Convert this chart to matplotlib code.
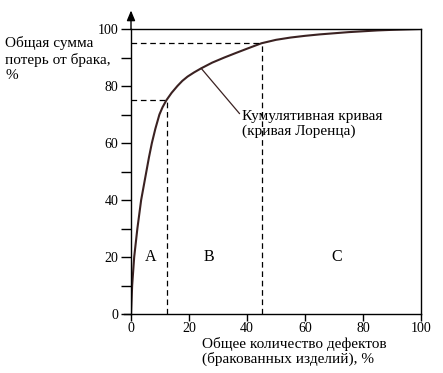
import matplotlib.pyplot as plt
import numpy as np

plt.rcParams['font.family'] = ['Liberation Serif', 'DejaVu Serif']

# cumulative curve
defects_pct = [0, 0.4, 1.1, 2.2, 3.5, 4.4, 5.3, 6.2, 7.2, 8.4, 9.8, 10.9, 12.2, 14.0, 16.0, 17.7,
               19.5, 21.8, 24.2, 28.0, 32.2, 36.2, 40.3, 45.0, 50, 55, 60, 65, 70, 75, 80, 85, 90,
               95, 100]
losses_pct = [0, 10, 20, 30, 40, 45, 50, 55, 60, 65, 70, 72.6, 75, 77.6, 80, 81.8,
              83.3, 84.8, 86.2, 88.2, 90, 91.6, 93.2, 95.0, 96.2, 97.0, 97.6, 98.1, 98.5, 98.9, 99.2,
              99.5, 99.7, 99.85, 100]

# ABC boundaries
a_x, a_y = 12.3, 75
b_x, b_y = 45, 95
zone_labels = ['A', 'B', 'C']
zone_x = [6.7, 27, 71]
zone_y = 20

fig = plt.figure(figsize=(4.43, 3.73), dpi=100)
ax = fig.add_axes([131/443, 1 - 314/373, 290/443, 285/373])

ax.plot(defects_pct, losses_pct, color='#3b2222', lw=1.5, solid_capstyle='round', solid_joinstyle='round')

dash = dict(color='black', lw=0.9, ls=(0, (4.5, 3)))
ax.plot([0, a_x], [a_y, a_y], **dash)
ax.plot([a_x, a_x], [0, a_y], **dash)
ax.plot([0, b_x], [b_y, b_y], **dash)
ax.plot([b_x, b_x], [0, b_y], **dash)

for lab, zx in zip(zone_labels, zone_x):
    ax.text(zx, zone_y, lab, fontsize=11.5, ha='center', va='center')

ax.annotate('Кумулятивная кривая\n(кривая Лоренца)', xy=(24.2, 86.2), xytext=(38.4, 71.6),
            fontsize=11, ha='left', va='top', linespacing=1.15,
            arrowprops=dict(arrowstyle='-', color='#3b2222', lw=0.9, shrinkA=0, shrinkB=0,
                            relpos=(0, 0.75)))

ax.set_xlim(0, 100)
ax.set_ylim(0, 100)
ax.set_xticks(range(0, 101, 20))
ax.set_yticks(range(0, 101, 20))
ax.set_yticks(range(10, 100, 20), minor=True)
ax.tick_params(axis='both', direction='out', length=7, width=1, labelsize=10, pad=2)
ax.tick_params(axis='y', which='minor', direction='out', length=7, width=1)
ax.tick_params(axis='x', length=5, pad=1)
for s in ax.spines.values():
    s.set_linewidth(1)

# arrow on y axis and left overhang of x axis
ax.plot([-2.4, 0], [0, 0], color='black', lw=1, clip_on=False)
ax.annotate('', xy=(0, 106.5), xytext=(0, 100), annotation_clip=False,
            arrowprops=dict(arrowstyle='-|>,head_width=0.25,head_length=0.6', color='black', lw=1,
                            shrinkA=0, shrinkB=0))

fig.text(5/443, 1 - 36/373, 'Общая сумма\nпотерь от брака,\n%', fontsize=11, ha='left', va='top',
         linespacing=1.25)
fig.text(202/443, 1 - 337/373, 'Общее количество дефектов\n(бракованных изделий), %', fontsize=11,
         ha='left', va='top', linespacing=1.1)

fig.savefig('out.png', dpi=100)
